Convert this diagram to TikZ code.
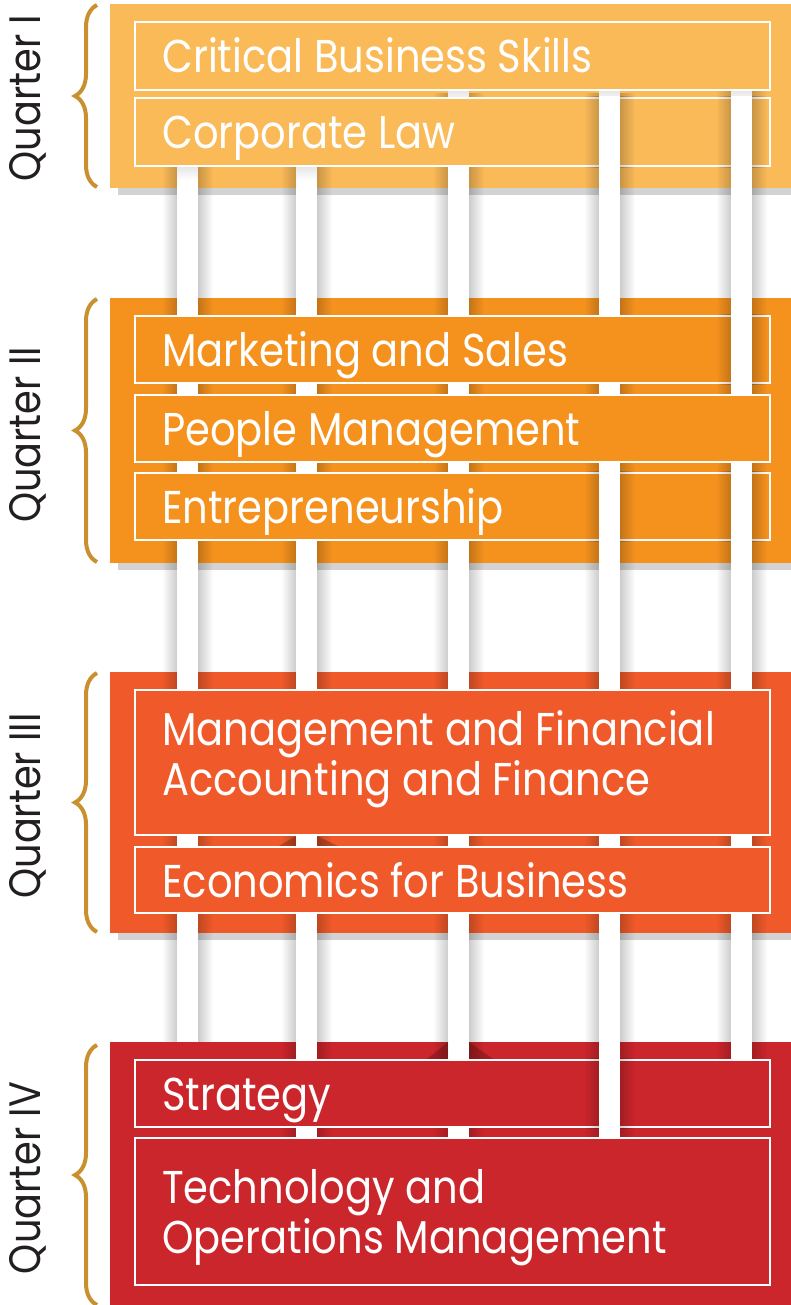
\documentclass[tikz,border=0pt]{standalone}
\usepackage{fontspec}
\setmainfont{Poppins}[FakeStretch=0.87]
\usetikzlibrary{decorations.pathreplacing,fadings}
\definecolor{qone}{HTML}{FBBA58}
\definecolor{qtwo}{HTML}{F5921E}
\definecolor{qthree}{HTML}{F05A2A}
\definecolor{qfour}{HTML}{CB262C}
\definecolor{bracegold}{HTML}{C8902E}
\definecolor{panelshadow}{HTML}{D3D3D3}
\definecolor{labelink}{HTML}{231F20}
\tikzfading[name=shade left, left color=transparent!100, right color=transparent!0]
\tikzfading[name=shade right, left color=transparent!0, right color=transparent!100]
\tikzfading[name=shade top, top color=transparent!0, bottom color=transparent!100]
\tikzset{
  panel/.style={fill=#1},
  dropshadow/.style={fill=panelshadow},
  course/.style={fill=#1, draw=white, line width=2.5pt},
  coursetext/.style={white, anchor=base west, inner sep=0pt, align=left,
    font=\fontsize{46}{50}\selectfont},
  qlabel/.style={labelink, rotate=90, inner sep=0pt, font=\fontsize{44}{44}\selectfont},
  qbrace/.style={draw=bracegold, line width=4pt, decorate,
    decoration={brace, amplitude=22pt}},
  sideshade/.style={black, opacity=0.2, path fading=#1},
  crease/.style={black, opacity=0.22}
}
% one white bar with its soft shadow: left x, top y, bottom y
\newcommand{\weftbar}[3]{%
  \fill[sideshade=shade left] (#1-15,#2) rectangle (#1,#3);
  \fill[sideshade=shade right] (#1+21,#2) rectangle (#1+36,#3);
  \fill[white] (#1,#2) rectangle (#1+21,#3);}

\begin{document}
\begin{tikzpicture}[x=1pt, y=-1pt]
  \useasboundingbox (0,0) rectangle (791,1305);

  % quarter panels
  \foreach \top/\bot/\col in {4/188/qone, 298/563/qtwo, 672/933/qthree, 1042/1305/qfour} {
    \fill[dropshadow] (118,\bot) rectangle (791,\bot+7);
    \fill[panel=\col] (110,\top) rectangle (791,\bot);
  }

  % vertical bars
  \foreach \x/\ya/\yb in {177/166/1042, 296/166/1138, 448/90/1138, 599/90/1138, 731/90/1060} {
    \weftbar{\x}{\ya}{\yb}
    \fill[black, opacity=0.1, path fading=shade top] (\x,\ya) rectangle (\x+21,\ya+14);
  }
  \fill[crease] (296,836) -- (296,847) -- (277,847) -- cycle;
  \fill[crease] (317,836) -- (317,847) -- (340,847) -- cycle;
  \fill[crease] (448,1042) -- (448,1059) -- (427,1059) -- cycle;
  \fill[crease] (469,1042) -- (469,1059) -- (493,1059) -- cycle;

  % course boxes
  \draw[course=qone] (135,22) rectangle (770,90);
  \draw[course=qone] (135,98) rectangle (770,166);
  \draw[course=qtwo] (135,316) rectangle (770,383);
  \draw[course=qtwo] (135,395) rectangle (770,462);
  \draw[course=qtwo] (135,473) rectangle (770,540);
  \draw[course=qthree] (135,690) rectangle (770,835);
  \draw[course=qthree] (135,847) rectangle (770,913);
  \draw[course=qfour] (135,1060) rectangle (770,1127);
  \draw[course=qfour] (135,1138) rectangle (770,1285);

  % bars that pass in front of a box
  \foreach \x/\ya/\yb in {599/96/168, 731/96/168, 731/314/385, 599/471/542, 731/471/542, 599/1058/1129}
    \weftbar{\x}{\ya}{\yb};

  % course titles (base = last line)
  \node[coursetext] (cbs) at (162,73) {Critical Business Skills};
  \node[coursetext] (law) at (162,149) {Corporate Law};
  \node[coursetext] (mks) at (162,366) {Marketing and Sales};
  \node[coursetext] (ppl) at (162,445) {People Management};
  \node[coursetext] (ent) at (162,523) {Entrepreneurship};
  \node[coursetext] (acc) at (162,795) {Management and Financial\\Accounting and Finance};
  \node[coursetext] (eco) at (162,897) {Economics for Business};
  \node[coursetext] (stg) at (162,1110) {Strategy};
  \node[coursetext] (tom) at (162,1253) {Technology and\\Operations Management};

  % braces and quarter names
  \draw[qbrace] (97,187) -- (97,5);
  \draw[qbrace] (97,562) -- (97,299);
  \draw[qbrace] (97,932) -- (97,673);
  \draw[qbrace] (97,1305) -- (97,1045);
  \node[qlabel] (q1) at (28,98) {Quarter I};
  \node[qlabel] (q2) at (28,435) {Quarter II};
  \node[qlabel] (q3) at (28,806) {Quarter III};
  \node[qlabel] (q4) at (28,1178) {Quarter IV};
\end{tikzpicture}
\end{document}
